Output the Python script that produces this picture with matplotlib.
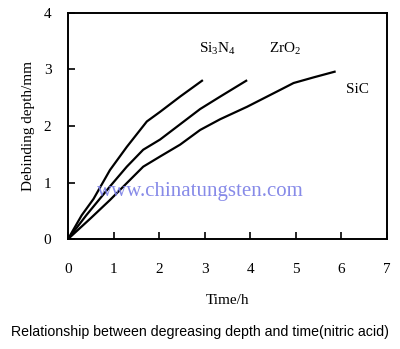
import matplotlib
matplotlib.use("Agg")
import matplotlib.pyplot as plt

# debinding depth vs time, read per material
si3n4_t = [0, 0.3, 0.56, 0.92, 1.29, 1.73, 2.02, 2.46, 2.94]
si3n4_d = [0, 0.42, 0.71, 1.22, 1.63, 2.08, 2.25, 2.52, 2.80]

zro2_t = [0, 0.4, 0.92, 1.29, 1.65, 2.02, 2.46, 2.9, 3.34, 3.91]
zro2_d = [0, 0.42, 0.93, 1.28, 1.58, 1.76, 2.03, 2.30, 2.52, 2.80]

sic_t = [0, 0.5, 0.92, 1.29, 1.65, 2.02, 2.46, 2.9, 3.34, 3.93, 4.66, 4.95, 5.39, 5.85]
sic_d = [0, 0.37, 0.69, 0.99, 1.28, 1.46, 1.67, 1.93, 2.12, 2.34, 2.64, 2.76, 2.86, 2.96]

labels = ["Si$_3$N$_4$", "ZrO$_2$", "SiC"]
label_pos = [(3.27, 3.36), (4.77, 3.36), (6.35, 2.64)]

xticks = [0, 1, 2, 3, 4, 5, 6, 7]
yticks = [0, 1, 2, 3, 4]

plt.rcParams['font.family'] = ['Liberation Serif', 'DejaVu Serif']
plt.rcParams['mathtext.fontset'] = 'custom'
plt.rcParams['mathtext.rm'] = 'Liberation Serif'
plt.rcParams['mathtext.it'] = 'Liberation Serif'

fig = plt.figure(figsize=(4.0, 3.49), dpi=100)
ax = fig.add_axes([0.17, 0.315, 0.7975, 0.648])

for t, d in [(si3n4_t, si3n4_d), (zro2_t, zro2_d), (sic_t, sic_d)]:
    ax.plot(t, d, color='black', linewidth=1.6, solid_joinstyle='round')

for txt, (x, y) in zip(labels, label_pos):
    ax.text(x, y, txt, ha='center', va='center', fontsize=11)

# site watermark
ax.text(2.9, 0.85, "www.chinatungsten.com", ha='center', va='center',
        fontsize=15, color='#7a7ee6', alpha=0.9)

ax.set_xlim(0, 7)
ax.set_ylim(0, 4)
ax.set_xticks(xticks)
ax.set_yticks(yticks)
ax.tick_params(direction='in', length=5, width=1.2, labelsize=11, pad=12,
               top=False, right=False)
ax.tick_params(axis='x', pad=17)
for s in ax.spines.values():
    s.set_linewidth(1.4)

ax.set_xlabel("Time/h", fontsize=11, labelpad=13)
ax.set_ylabel("Debinding depth/mm", fontsize=11, labelpad=6)

fig.text(0.5, 0.05, "Relationship between degreasing depth and time(nitric acid)",
         ha='center', va='center', fontsize=10.2, family='Liberation Sans')

fig.savefig("out.png", dpi=100)
